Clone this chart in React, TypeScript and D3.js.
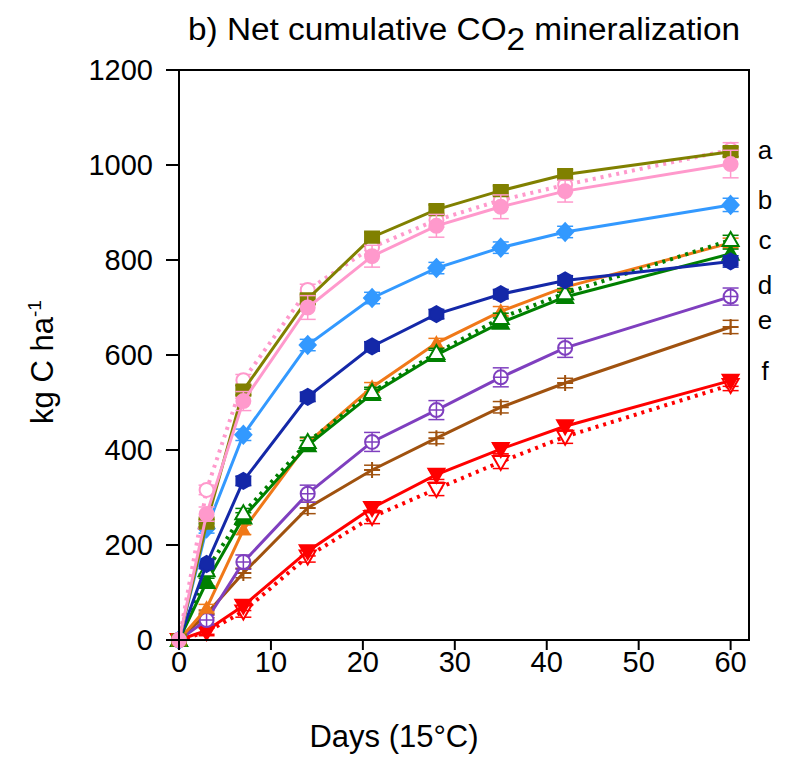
import React from "react";
import * as d3 from "d3";

// sampling days
const days = [0, 3, 7, 14, 21, 28, 35, 42, 60];

// net cumulative CO2-C (kg C/ha)
const olive = [0, 246, 526, 718, 848, 906, 946, 980, 1028];
const pinkFilled = [0, 265, 503, 700, 808, 872, 912, 945, 1002];
const pinkOpen = [0, 316, 547, 737, 827, 884, 926, 958, 1032];
const lightBlue = [0, 235, 432, 621, 720, 783, 826, 859, 916];
const darkBlue = [0, 160, 335, 512, 618, 686, 728, 757, 797];
const orange = [0, 67, 232, 415, 532, 625, 692, 743, 836];
const greenFilled = [0, 122, 258, 410, 518, 600, 668, 722, 813];
const greenOpen = [0, 147, 267, 417, 522, 604, 678, 730, 842];
const purple = [0, 42, 164, 308, 417, 484, 553, 615, 723];
const brown = [0, 55, 141, 278, 358, 425, 490, 541, 659];
const redFilled = [0, 20, 72, 187, 278, 348, 402, 450, 546];
const redOpen = [0, 17, 60, 176, 259, 318, 375, 428, 537];

// standard errors
const oliveErr = [0, 8, 10, 10, 10, 10, 10, 10, 10];
const pinkFilledErr = [0, 15, 20, 25, 23, 24, 25, 23, 29];
const pinkOpenErr = [0, 10, 12, 12, 15, 15, 15, 15, 15];
const lightBlueErr = [0, 10, 12, 12, 12, 12, 12, 12, 14];
const darkBlueErr = [0, 10, 10, 10, 10, 10, 10, 10, 12];
const orangeErr = [0, 8, 10, 10, 10, 10, 10, 10, 10];
const greenFilledErr = [0, 8, 10, 10, 10, 10, 10, 10, 10];
const greenOpenErr = [0, 8, 10, 10, 10, 10, 10, 10, 10];
const purpleErr = [0, 10, 15, 18, 20, 20, 20, 20, 18];
const brownErr = [0, 8, 10, 12, 10, 12, 12, 10, 14];
const redFilledErr = [0, 8, 10, 10, 10, 10, 10, 10, 12];
const redOpenErr = [0, 8, 12, 12, 14, 14, 14, 14, 12];

const yTicks = [0, 200, 400, 600, 800, 1000, 1200];
const xTicks = [0, 10, 20, 30, 40, 50, 60];
const groupLetters = ["a", "b", "c", "d", "e", "f"];
const letterValues = [1030, 925, 840, 745, 672, 565];

const margin = { left: 179, right: 749, top: 70, bottom: 640 };
const x = d3.scaleLinear().domain([0, 62]).range([margin.left, margin.right]);
const y = d3.scaleLinear().domain([0, 1200]).range([margin.bottom, margin.top]);

type Marker = "square" | "circle" | "diamond" | "hexagon" | "triangle" | "triangleDown" | "circlePlus" | "plus";

interface Series {
  values: number[];
  err: number[];
  color: string;
  dotted: boolean;
  marker: Marker;
  filled: boolean;
  size: number;
}

const series: Series[] = [
  { values: redOpen, err: redOpenErr, color: "#ff0000", dotted: true, marker: "triangleDown", filled: false, size: 8 },
  { values: redFilled, err: redFilledErr, color: "#ff0000", dotted: false, marker: "triangleDown", filled: true, size: 8 },
  { values: brown, err: brownErr, color: "#a0520f", dotted: false, marker: "plus", filled: false, size: 8 },
  { values: purple, err: purpleErr, color: "#7f3fbf", dotted: false, marker: "circlePlus", filled: false, size: 7 },
  { values: orange, err: orangeErr, color: "#f07818", dotted: false, marker: "triangle", filled: true, size: 6 },
  { values: greenFilled, err: greenFilledErr, color: "#008000", dotted: false, marker: "triangle", filled: true, size: 8 },
  { values: greenOpen, err: greenOpenErr, color: "#008000", dotted: true, marker: "triangle", filled: false, size: 8 },
  { values: darkBlue, err: darkBlueErr, color: "#1428a8", dotted: false, marker: "hexagon", filled: true, size: 8 },
  { values: lightBlue, err: lightBlueErr, color: "#3399ff", dotted: false, marker: "diamond", filled: true, size: 8 },
  { values: pinkOpen, err: pinkOpenErr, color: "#ff99cc", dotted: true, marker: "circle", filled: false, size: 7 },
  { values: olive, err: oliveErr, color: "#808000", dotted: false, marker: "square", filled: true, size: 7 },
  { values: pinkFilled, err: pinkFilledErr, color: "#ff99cc", dotted: false, marker: "circle", filled: true, size: 7 },
];

function markerPath(m: Marker, r: number): string {
  switch (m) {
    case "square":
      return `M${-r},${-r * 0.8}H${r}V${r * 0.8}H${-r}Z`;
    case "circle":
    case "circlePlus":
      return `M${r},0A${r},${r},0,1,1,${-r},0A${r},${r},0,1,1,${r},0Z`;
    case "diamond":
      return `M0,${-r * 1.1}L${r},0L0,${r * 1.1}L${-r},0Z`;
    case "hexagon": {
      const pts = d3.range(6).map((i) => {
        const a = (Math.PI / 3) * i + Math.PI / 6;
        return [r * Math.cos(a), r * Math.sin(a)];
      });
      return "M" + pts.map((p) => p.join(",")).join("L") + "Z";
    }
    case "triangle":
      return `M0,${-r}L${r},${r * 0.75}L${-r},${r * 0.75}Z`;
    case "triangleDown":
      return `M0,${r}L${r},${-r * 0.75}L${-r},${-r * 0.75}Z`;
    case "plus":
      return `M${-r},0H${r}M0,${-r}V${r}`;
  }
}

const font = "Arial, 'Liberation Sans', sans-serif";

export default function App() {
  const line = d3
    .line<number>()
    .x((_, i) => x(days[i]))
    .y((d) => y(d));

  return (
    <svg width={791} height={757} style={{ position: "absolute", left: 0, top: 0, background: "#fff" }}>
      <rect width={791} height={757} fill="#fff" />
      {/* title */}
      <text x={188} y={40} fontFamily={font} fontSize={31} fill="#000" textLength={552} lengthAdjust="spacingAndGlyphs">
        b) Net cumulative CO<tspan dy={10}>2</tspan>
        <tspan dy={-10}> mineralization</tspan>
      </text>

      {/* series */}
      {series.map((s, k) => (
        <g key={k}>
          <path
            d={line(s.values) || ""}
            fill="none"
            stroke={s.color}
            strokeWidth={s.dotted ? 4 : 3}
            strokeDasharray={s.dotted ? "3,5" : undefined}
          />
          {s.values.map((v, i) =>
            s.err[i] > 0 ? (
              <g key={i} stroke={s.color} strokeWidth={1.5}>
                <line x1={x(days[i])} x2={x(days[i])} y1={y(v - s.err[i])} y2={y(v + s.err[i])} />
                <line x1={x(days[i]) - 8} x2={x(days[i]) + 8} y1={y(v - s.err[i])} y2={y(v - s.err[i])} />
                <line x1={x(days[i]) - 8} x2={x(days[i]) + 8} y1={y(v + s.err[i])} y2={y(v + s.err[i])} />
              </g>
            ) : null
          )}
          {s.values.map((v, i) => (
            <g key={"m" + i} transform={`translate(${x(days[i])},${y(v)})`}>
              <path
                d={markerPath(s.marker, s.size)}
                fill={s.marker === "plus" ? "none" : s.filled ? s.color : "#fff"}
                stroke={s.color}
                strokeWidth={2}
              />
              {s.marker === "circlePlus" && (
                <path d={markerPath("plus", s.size)} stroke={s.color} strokeWidth={1.5} fill="none" />
              )}
            </g>
          ))}
        </g>
      ))}

      {/* frame */}
      <rect
        x={margin.left}
        y={margin.top}
        width={margin.right - margin.left}
        height={margin.bottom - margin.top}
        fill="none"
        stroke="#000"
        strokeWidth={2}
      />

      {/* y axis */}
      {yTicks.map((t) => (
        <g key={t}>
          <line x1={margin.left - 13} x2={margin.left} y1={y(t)} y2={y(t)} stroke="#000" strokeWidth={2} />
          <text x={153} y={y(t) + 10} textAnchor="end" fontFamily={font} fontSize={29} fill="#000">
            {t}
          </text>
        </g>
      ))}

      {/* x axis */}
      {xTicks.map((t) => (
        <g key={t}>
          <line x1={x(t)} x2={x(t)} y1={margin.bottom} y2={margin.bottom + 10} stroke="#000" strokeWidth={2} />
          <text x={x(t)} y={672} textAnchor="middle" fontFamily={font} fontSize={29} fill="#000">
            {t}
          </text>
        </g>
      ))}

      {/* axis titles */}
      <text x={394} y={747} textAnchor="middle" fontFamily={font} fontSize={31} fill="#000">
        Days (15°C)
      </text>
      <text
        transform={`translate(53,362) rotate(-90)`}
        textAnchor="middle"
        fontFamily={font}
        fontSize={31}
        fill="#000"
      >
        kg C ha<tspan dy={-12} fontSize={19}>-1</tspan>
      </text>

      {/* group letters */}
      {groupLetters.map((l, i) => (
        <text key={l} x={765} y={y(letterValues[i]) + 8} textAnchor="middle" fontFamily={font} fontSize={26} fill="#000">
          {l}
        </text>
      ))}
    </svg>
  );
}
